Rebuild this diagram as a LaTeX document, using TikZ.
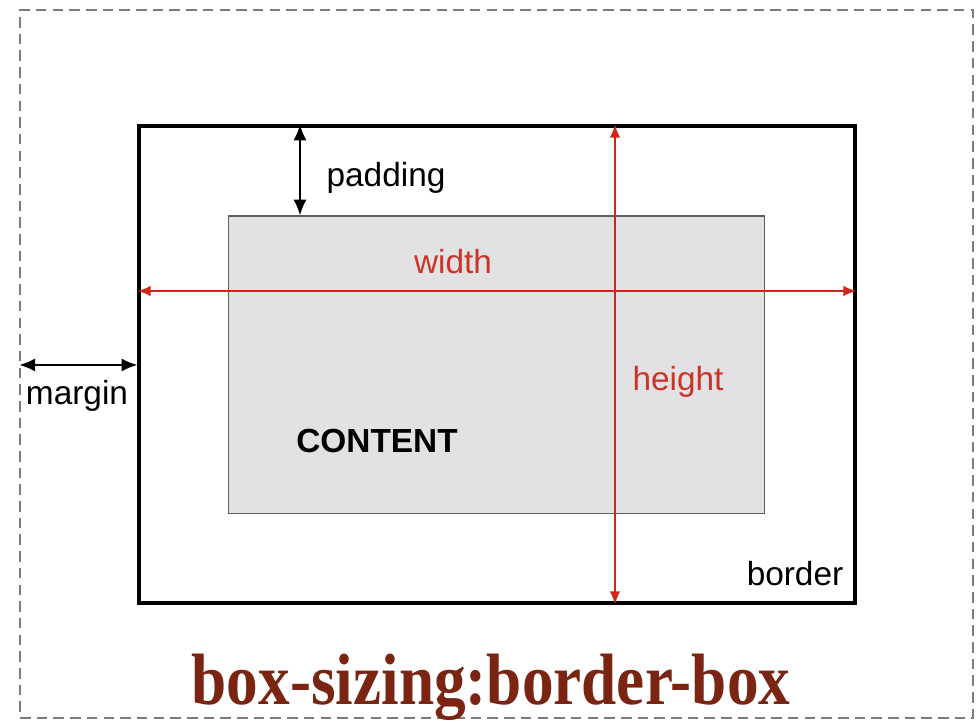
\documentclass[tikz,border=0pt]{standalone}
\usepackage{fontspec}
\setmainfont{Liberation Serif}
\setsansfont{Liberation Sans}
\usepackage{graphicx}
\usepackage{tikz}
\usetikzlibrary{arrows,arrows.meta,shapes,positioning,calc}
\usepackage{xcolor}
\definecolor{bxred}{RGB}{208,38,26}
\definecolor{bxlabel}{RGB}{204,52,40}
\definecolor{bxgray}{RGB}{226,225,228}
\definecolor{bxedge}{RGB}{95,95,95}
\definecolor{bxframe}{RGB}{125,125,125}
\definecolor{bxtitle}{RGB}{122,36,18}
\tikzstyle{arrow} = [line width=1.3pt,{Latex[length=9pt,width=7.5pt]}-{Latex[length=9pt,width=7.5pt]}]
\tikzstyle{redarrow} = [line width=1.1pt,{Latex[length=7.5pt,width=6pt]}-{Latex[length=7.5pt,width=6pt]},color=bxred]
\tikzstyle{lbl} = [font=\sffamily\fontsize{19}{22}\selectfont, inner sep=0pt, anchor=base]

\begin{document}
\begin{tikzpicture}[x=0.02cm, y=-0.02cm]
    \useasboundingbox (0,0) rectangle (978,722);
    % outer margin area
    \node[rectangle, draw=bxframe, line width=1pt, dash pattern=on 6pt off 3.5pt, minimum width=19.06cm, minimum height=14.16cm] (frame) at (496.5,364) {};
    % border box and content
    \node[rectangle, draw=black, line width=1.8pt, minimum width=14.32cm, minimum height=9.54cm] (border) at (497,364.5) {};
    \node[rectangle, draw=bxedge, fill=bxgray, line width=0.6pt, minimum width=10.74cm, minimum height=5.96cm] (content) at (496.5,365) {};

    \coordinate (padx) at (300,0);
    \coordinate (wy) at (0,291);
    \coordinate (hx) at (615,0);
    \coordinate (my) at (0,365);

    \draw[arrow] (border.north -| padx) -- (content.north -| padx);
    \draw[arrow] (frame.west |- my) -- (border.west |- my);
    \draw[redarrow] (border.west |- wy) -- (border.east |- wy);
    \draw[redarrow] (border.north -| hx) -- (border.south -| hx);

    \node[lbl] (padding) at (386,187) {padding};
    \node[lbl] (margin) at (77,405) {margin};
    \node[lbl, text=bxlabel] (width) at (453,274) {width};
    \node[lbl, text=bxlabel] (height) at (678,391) {height};
    \node[lbl, font=\sffamily\bfseries\fontsize{19}{22}\selectfont] (label) at (377,453) {CONTENT};
    \node[lbl] (borderlbl) at (795,586) {border};

    \node[inner sep=0pt, anchor=base, text=bxtitle, font=\bfseries\fontsize{36}{40}\selectfont] (title) at (491,705) {\scalebox{1}[1.15]{box-sizing:border-box}};
\end{tikzpicture}
\end{document}
